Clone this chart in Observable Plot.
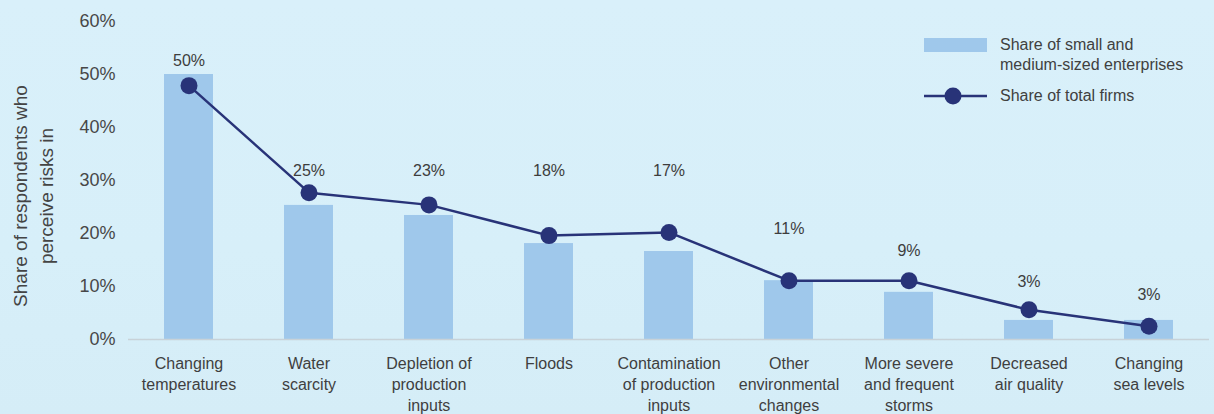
<!DOCTYPE html>
<html>
<head>
<meta charset="utf-8">
<script src="https://cdn.jsdelivr.net/npm/d3@7"></script>
<script src="https://cdn.jsdelivr.net/npm/@observablehq/plot@0.6"></script>
<style>
  html, body { margin: 0; padding: 0; }
  body { width: 1214px; height: 414px; overflow: hidden;
         background: linear-gradient(180deg, #d9f0fa 0%, #d7eff9 60%, #d5edf7 100%);
         font-family: "Liberation Sans", Arial, Helvetica, sans-serif; color: #404040; }
  #wrap { position: relative; width: 1214px; height: 414px; }
  #legend { position: absolute; left: 0; top: 0; font-size: 16px; color: #404040; }
  .lg-item { position: absolute; }
</style>
</head>
<body>
<div id="wrap">
  <div id="chart"></div>
  <div id="legend"></div>
</div>
<script>
// ---- Data ----
const categories = [
  "Changing temperatures", "Water scarcity", "Depletion of production inputs",
  "Floods", "Contamination of production inputs", "Other environmental changes",
  "More severe and frequent storms", "Decreased air quality", "Changing sea levels"
];
const tickLabels = [
  "Changing\ntemperatures", "Water\nscarcity", "Depletion of\nproduction\ninputs",
  "Floods", "Contamination\nof production\ninputs", "Other\nenvironmental\nchanges",
  "More severe\nand frequent\nstorms", "Decreased\nair quality", "Changing\nsea levels"
];
const smeShare   = [50, 25.3, 23.4, 18.1, 16.6, 11.1, 8.9, 3.6, 3.6];
const totalShare = [47.9, 27.7, 25.4, 19.6, 20.2, 11.1, 11.1, 5.6, 2.5];
const valueLabels = ["50%", "25%", "23%", "18%", "17%", "11%", "9%", "3%", "3%"];
const labelAnchor = [52.6, 31.8, 31.8, 31.8, 31.8, 20.8, 16.8, 10.8, 8.5];
const yTicks = [0, 10, 20, 30, 40, 50, 60];
const seriesNames = ["Share of small and\nmedium-sized enterprises", "Share of total firms"];
const axisTitleLines = ["Share of respondents who", "perceive risks in"];

// ---- Table ----
const data = categories.map((c, i) => ({
  cat: c, sme: smeShare[i], total: totalShare[i], label: valueLabels[i], labelY: labelAnchor[i]
}));
const tickMap = new Map(categories.map((c, i) => [c, tickLabels[i]]));

const barColor = "#9fc8eb";
const navy = "#283378";

const chart = Plot.plot({
  width: 1214,
  height: 414,
  marginLeft: 128,
  marginRight: 5,
  marginTop: 21,
  marginBottom: 75,
  style: { background: "transparent", fontFamily: "'Liberation Sans', Arial, sans-serif", color: "#444" },
  x: { domain: categories, paddingInner: 0.5917, paddingOuter: 0.3, round: false, label: null },
  y: { domain: [0, 60], label: null },
  marks: [
    Plot.axisY({ ticks: yTicks, tickFormat: d => d + "%", tickSize: 0, tickPadding: 13, fontSize: 18, fill: "#474747", label: null }),
    Plot.axisX({ tickSize: 0, tickPadding: 15, fontSize: 16, lineHeight: 1.3, fill: "#3f3f3f", tickFormat: d => tickMap.get(d), label: null }),
    Plot.barY(data, { x: "cat", y: "sme", fill: barColor }),
    Plot.ruleY([0], { stroke: "#c8d2d8", strokeWidth: 1.3 }),
    Plot.line(data, { x: "cat", y: "total", stroke: navy, strokeWidth: 2.5 }),
    Plot.dot(data, { x: "cat", y: "total", r: 8.5, fill: navy, stroke: "none" }),
    Plot.text(data, { x: "cat", y: "labelY", text: "label", fontSize: 16, fill: "#3d3d3d" })
  ]
});
document.getElementById("chart").appendChild(chart);

// ---- Rotated y-axis title (two lines) ----
const svg = d3.select(chart);
const titleX = [20, 46];
axisTitleLines.forEach((t, i) => {
  svg.append("text")
    .attr("transform", `translate(${titleX[i]},196) rotate(-90)`)
    .attr("text-anchor", "middle")
    .attr("dy", "0.35em")
    .attr("font-size", 19)
    .attr("fill", "#444")
    .attr("font-family", "'Liberation Sans', Arial, sans-serif")
    .text(t);
});

// ---- Legend ----
const legend = document.getElementById("legend");
legend.innerHTML = `
  <div class="lg-item" style="left:924px;top:38px;width:63px;height:14px;background:${barColor}"></div>
  <div class="lg-item" style="left:1000px;top:35px;line-height:20px;white-space:pre">${seriesNames[0]}</div>
  <svg class="lg-item" style="left:924px;top:87px" width="63" height="18">
    <line x1="0" x2="63" y1="9" y2="9" stroke="${navy}" stroke-width="2.5"/>
    <circle cx="29" cy="9" r="8.5" fill="${navy}"/>
  </svg>
  <div class="lg-item" style="left:1000px;top:86px;line-height:20px;white-space:pre">${seriesNames[1]}</div>
`;
</script>
</body>
</html>
